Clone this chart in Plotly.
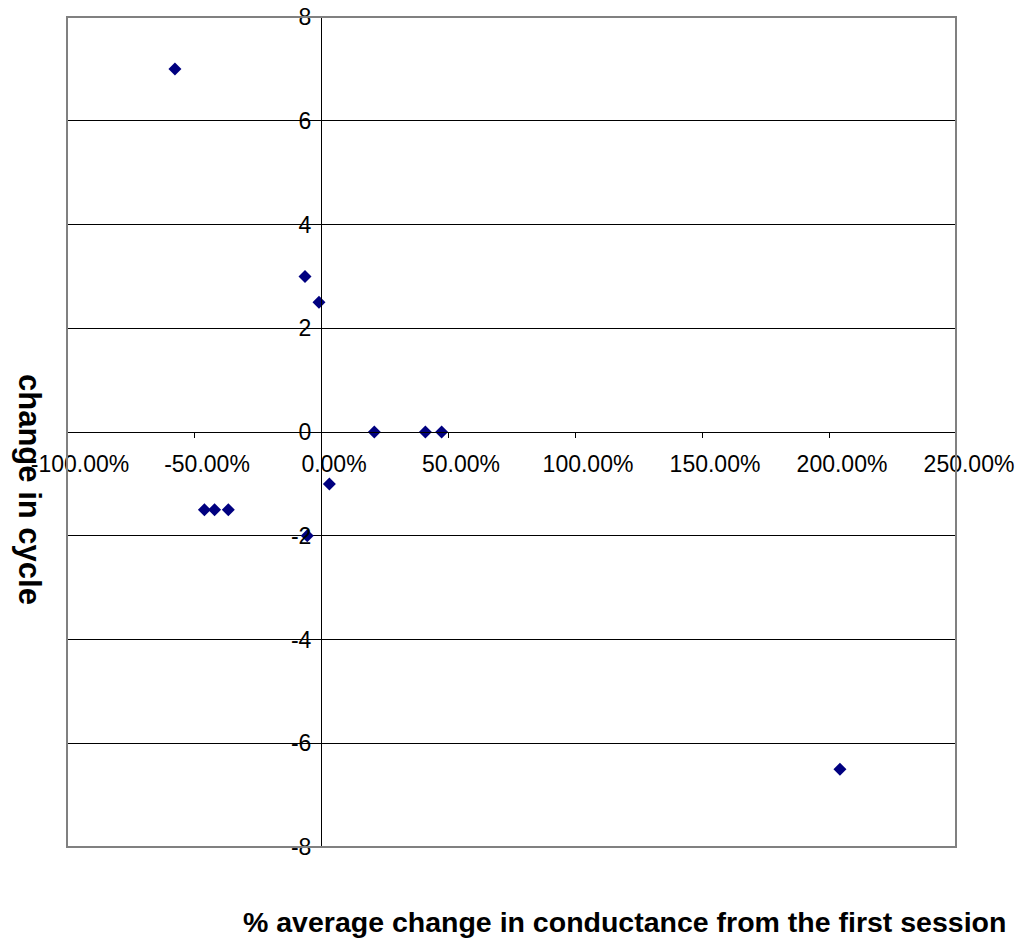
import plotly.graph_objects as go

# data
pct_change = [-0.575, -0.063, -0.008, 0.210, 0.411, 0.475, 0.033, -0.459, -0.419, -0.365, -0.054, 2.043]
cycle_change = [7, 3, 2.5, 0, 0, 0, -1, -1.5, -1.5, -1.5, -2, -6.5]

x_tickvals = [-1.0, -0.5, 0.0, 0.5, 1.0, 1.5, 2.0, 2.5]
x_ticktext = ["-100.00%", "-50.00%", "0.00%", "50.00%", "100.00%", "150.00%", "200.00%", "250.00%"]
y_tickvals = [-8, -6, -4, -2, 0, 2, 4, 6, 8]
y_ticktext = ["-8", "-6", "-4", "-2", "0", "2", "4", "6", "8"]

x_range = [-1.0, 2.5]
y_range = [-8, 8]

W, H = 1022, 942
ml, mr, mt, mb = 67, 66, 17, 95

FAM = "Liberation Sans, Arial, sans-serif"

fig = go.Figure()
fig.add_trace(go.Scatter(
    x=pct_change, y=cycle_change, mode="markers",
    marker=dict(symbol="diamond", size=10, color="#000080",
                line=dict(width=0)),
    showlegend=False, cliponaxis=False,
))

fig.update_layout(
    width=W, height=H,
    margin=dict(l=ml, r=mr, t=mt, b=mb, autoexpand=False),
    paper_bgcolor="white", plot_bgcolor="white",
    font=dict(family=FAM, size=23, color="black"),
    xaxis=dict(
        range=x_range, tickmode="array", tickvals=x_tickvals, ticktext=x_ticktext,
        anchor="free", position=(0 - y_range[0]) / (y_range[1] - y_range[0]),
        showline=True, linecolor="black", linewidth=1,
        ticks="outside", ticklen=5, tickcolor="black",
        showgrid=False, zeroline=False, automargin=False,
        ticklabelstandoff=6, ticklabelshift=13,
    ),
    yaxis=dict(
        range=y_range, tickmode="array", tickvals=y_tickvals, ticktext=y_ticktext,
        anchor="free", position=(0 - x_range[0]) / (x_range[1] - x_range[0]),
        showline=True, linecolor="black", linewidth=1,
        ticks="outside", ticklen=5, tickcolor="black",
        showgrid=True, gridcolor="black", gridwidth=1, zeroline=False,
        automargin=False, ticklabelstandoff=0,
    ),
    shapes=[dict(type="rect", xref="paper", yref="paper", x0=0, x1=1, y0=0, y1=1,
                 line=dict(color="#808080", width=2), layer="above")],
    annotations=[
        dict(text="<b>% average change in conductance from the first session</b>",
             xref="paper", yref="paper",
             x=(624 - ml) / (W - ml - mr), y=-(922 - (H - mb)) / (H - mt - mb),
             xanchor="center", yanchor="middle", showarrow=False,
             font=dict(family=FAM, size=28.5, color="black")),
        dict(text="<b>change in cycle</b>", textangle=90,
             xref="paper", yref="paper",
             x=-(ml - 30) / (W - ml - mr), y=((H - mb) - 489) / (H - mt - mb),
             xanchor="center", yanchor="middle", showarrow=False,
             font=dict(family=FAM, size=31, color="black")),
    ],
)

fig.write_html("out.html")
